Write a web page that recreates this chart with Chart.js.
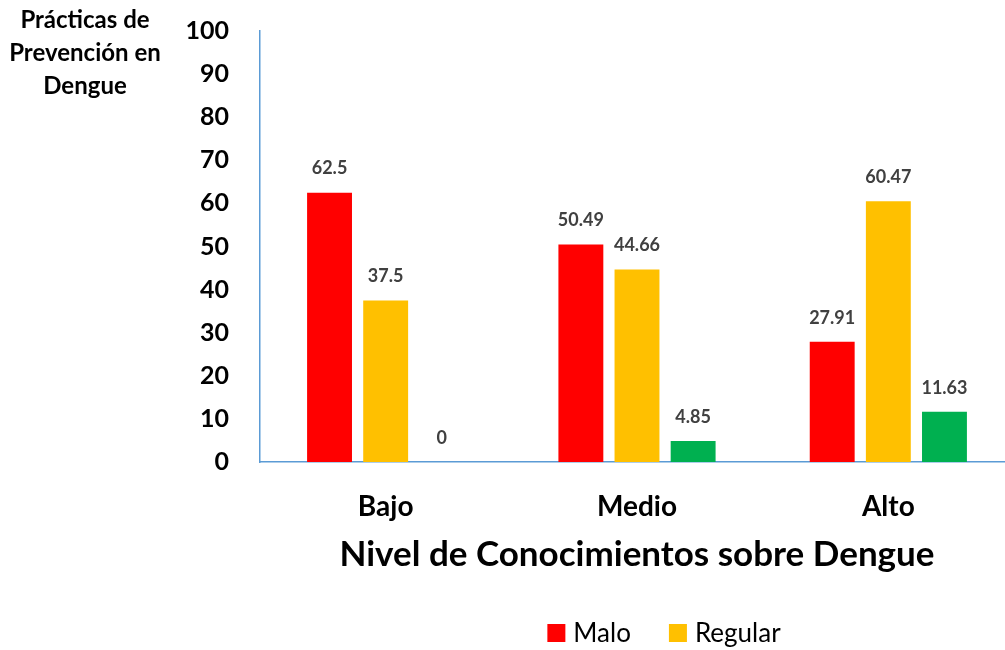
<!DOCTYPE html>
<html>
<head>
<meta charset="utf-8">
<title>Prácticas de Prevención en Dengue</title>
<script src="https://cdn.jsdelivr.net/npm/chart.js@4.4.0/dist/chart.umd.min.js"></script>
<style>
    html, body { margin: 0; padding: 0; background: #fff; overflow: hidden; }
    #wrap { width: 1014px; height: 650px; position: relative; }
</style>
</head>
<body>
<div id="wrap"><canvas id="chart"></canvas></div>
<script>
// Data
const categories = ['Bajo', 'Medio', 'Alto'];
const seriesNames = ['Malo', 'Regular', 'Bueno'];
const malo = [62.5, 50.49, 27.91];
const regular = [37.5, 44.66, 60.47];
const bueno = [0, 4.85, 11.63];
const yTicks = [0, 10, 20, 30, 40, 50, 60, 70, 80, 90, 100];
const legendShown = ['Malo', 'Regular'];
const yTitle = ['Prácticas de', 'Prevención en', 'Dengue'];
const xTitle = 'Nivel de Conocimientos sobre Dengue';

const seriesColors = ['#FF0000', '#FFC000', '#00B050'];
const fontFamily = 'Lato, "Open Sans", sans-serif';
const axisBlue = '#5B9BD5';

// Value labels above each bar
const valueLabels = {
    id: 'valueLabels',
    afterDatasetsDraw(chart) {
        const ctx = chart.ctx;
        ctx.save();
        ctx.font = 'bold 18px ' + fontFamily;
        ctx.fillStyle = '#404040';
        ctx.textAlign = 'center';
        ctx.textBaseline = 'middle';
        chart.data.datasets.forEach((ds, i) => {
            chart.getDatasetMeta(i).data.forEach((bar, j) => {
                ctx.fillText(String(ds.data[j]), bar.x, bar.y - 24);
            });
        });
        ctx.restore();
    }
};

// Y title in the top-left corner, three centred lines
const cornerTitle = {
    id: 'cornerTitle',
    afterDraw(chart) {
        const ctx = chart.ctx;
        ctx.save();
        ctx.font = 'bold 24px ' + fontFamily;
        ctx.fillStyle = '#000';
        ctx.textAlign = 'center';
        ctx.textBaseline = 'middle';
        yTitle.forEach((line, i) => {
            ctx.fillText(line, 85, 20 + i * 33);
        });
        ctx.restore();
    }
};

// Legend at the bottom (only Malo and Regular are visible in the reference)
const bottomLegend = {
    id: 'bottomLegend',
    afterDraw(chart) {
        const ctx = chart.ctx;
        ctx.save();
        ctx.font = '26px ' + fontFamily;
        ctx.textBaseline = 'middle';
        ctx.textAlign = 'left';
        const box = 18, gapText = 8, gapItem = 38, cy = 633;
        let total = 0;
        legendShown.forEach((name, i) => {
            total += box + gapText + ctx.measureText(name).width;
            if (i < legendShown.length - 1) total += gapItem;
        });
        let x = 664 - total / 2;
        legendShown.forEach(name => {
            const idx = seriesNames.indexOf(name);
            ctx.fillStyle = seriesColors[idx];
            ctx.fillRect(x, cy - box / 2, box, box);
            x += box + gapText;
            ctx.fillStyle = '#000';
            ctx.fillText(name, x, cy + 1);
            x += ctx.measureText(name).width + gapItem;
        });
        ctx.restore();
    }
};

const seriesData = [malo, regular, bueno];

new Chart(document.getElementById('chart'), {
    type: 'bar',
    data: {
        labels: categories,
        datasets: seriesNames.map((name, i) => ({
            label: name,
            data: seriesData[i],
            backgroundColor: seriesColors[i],
            barPercentage: 0.8,
            categoryPercentage: 0.67
        }))
    },
    options: {
        responsive: true,
        maintainAspectRatio: false,
        animation: false,
        layout: { padding: { top: 31, right: 0, bottom: 0, left: 0 } },
        plugins: {
            legend: { display: false },
            tooltip: { enabled: false }
        },
        scales: {
            x: {
                grid: { display: false, drawTicks: false },
                border: { color: axisBlue, width: 1.5 },
                ticks: {
                    color: '#000',
                    padding: 28,
                    font: { family: fontFamily, size: 28, weight: 'bold' }
                },
                title: {
                    display: true,
                    text: xTitle,
                    color: '#000',
                    font: { family: fontFamily, size: 35, weight: 'bold' },
                    padding: { top: 0, bottom: 74 }
                },
                afterFit(scale) {
                    scale.height = 188;
                    scale.paddingLeft = 0;
                    scale.paddingRight = 0;
                }
            },
            y: {
                min: 0,
                max: 100,
                grid: { display: false, drawTicks: false },
                border: { color: axisBlue, width: 1.5 },
                afterBuildTicks(scale) {
                    scale.ticks = yTicks.map(v => ({ value: v }));
                },
                ticks: {
                    color: '#000',
                    padding: 31,
                    font: { family: fontFamily, size: 25, weight: 'bold' }
                },
                afterFit(scale) {
                    scale.width = 260;
                    scale.paddingTop = 0;
                    scale.paddingBottom = 0;
                }
            }
        }
    },
    plugins: [valueLabels, cornerTitle, bottomLegend]
});
</script>
</body>
</html>
